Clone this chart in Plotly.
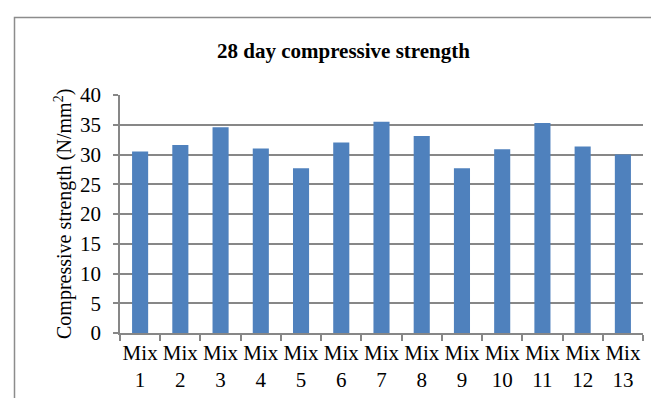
import plotly.graph_objects as go

categories = ["Mix<br>1", "Mix<br>2", "Mix<br>3", "Mix<br>4", "Mix<br>5", "Mix<br>6", "Mix<br>7",
              "Mix<br>8", "Mix<br>9", "Mix<br>10", "Mix<br>11", "Mix<br>12", "Mix<br>13"]
strength = [30.5, 31.6, 34.6, 31.0, 27.7, 32.0, 35.5, 33.1, 27.7, 30.9, 35.3, 31.35, 30.0]
y_ticks = [0, 5, 10, 15, 20, 25, 30, 35, 40]

W, H = 659, 398
L, R, T, B = 112, 24, 87, 73
pw, ph = W - L - R, H - T - B

def px_x(p):
    return (p - L) / pw

def px_y(p):
    return (H - B - p) / ph

grid_col = "#878787"
font_fam = "Liberation Serif"

fig = go.Figure(go.Bar(x=categories, y=strength, marker=dict(color="#4F81BD", line=dict(width=0)),
                       width=0.4))

fig.update_layout(
    width=W, height=H,
    margin=dict(l=L, r=R, t=T, b=B),
    paper_bgcolor="white", plot_bgcolor="white",
    showlegend=False,
    font=dict(family=font_fam, size=21, color="black"),
    xaxis=dict(type="category", range=[-0.5, 12.5], showline=True, linecolor=grid_col, linewidth=1.5,
               ticks="outside", tickson="boundaries", ticklen=6, tickcolor=grid_col, tickwidth=1.5,
               showgrid=False, tickangle=0, automargin=False,
               tickfont=dict(size=21, family=font_fam, color="black")),
    yaxis=dict(range=[0, 40], tickvals=y_ticks, showline=True, linecolor=grid_col, linewidth=1.5,
               ticks="outside", ticklen=5, tickcolor=grid_col, tickwidth=1.5, ticklabelstandoff=8,
               showgrid=True, gridcolor=grid_col, gridwidth=1.5, zeroline=False, automargin=False,
               tickfont=dict(size=21, family=font_fam, color="black")),
    shapes=[dict(type="rect", xref="paper", yref="paper",
                 x0=px_x(6.5), x1=px_x(W + 5), y0=px_y(H + 5), y1=px_y(9.5),
                 line=dict(color="#8c8c8c", width=1.5), fillcolor="rgba(0,0,0,0)", layer="below")],
    annotations=[
        dict(text="<b>28 day compressive strength</b>", xref="paper", yref="paper",
             x=px_x(335), y=px_y(43), xanchor="center", yanchor="middle", showarrow=False,
             font=dict(size=21, family=font_fam, color="black")),
        dict(text="Compressive strength (N/mm<sup>2</sup>)", xref="paper", yref="paper",
             x=px_x(55), y=px_y(206), xanchor="center", yanchor="middle", showarrow=False,
             textangle=-90, font=dict(size=20, family=font_fam, color="black")),
    ],
)

fig.write_html("out.html")
